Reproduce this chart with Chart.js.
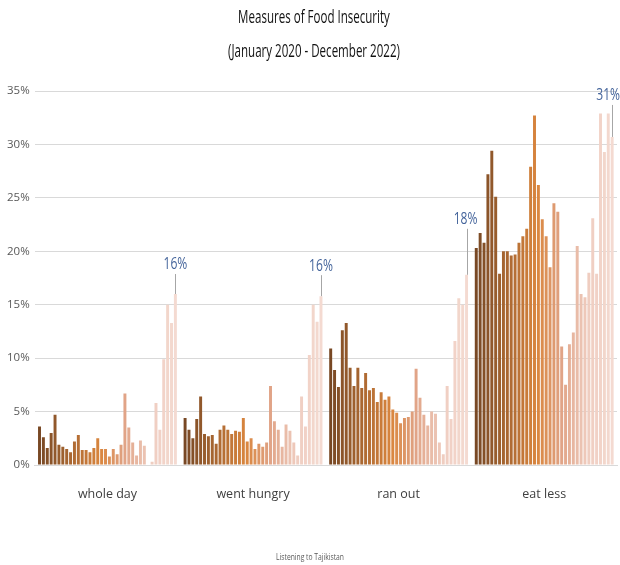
<!DOCTYPE html>
<html>
<head>
<meta charset="utf-8">
<script src="https://cdn.jsdelivr.net/npm/chart.js@4"></script>
<style>
  html, body { margin: 0; padding: 0; background: #ffffff; }
  #wrap { width: 620px; height: 565px; position: relative; }
</style>
</head>
<body>
<div id="wrap"><canvas id="food-chart"></canvas></div>
<script>
// Категории и месяцы
const categories = ['whole day', 'went hungry', 'ran out', 'eat less'];
const months = [
    'Jan 2020', 'Feb 2020', 'Mar 2020', 'Apr 2020', 'May 2020', 'Jun 2020', 'Jul 2020', 'Aug 2020', 'Sep 2020', 'Oct 2020', 'Nov 2020', 'Dec 2020',
    'Jan 2021', 'Feb 2021', 'Mar 2021', 'Apr 2021', 'May 2021', 'Jun 2021', 'Jul 2021', 'Aug 2021', 'Sep 2021', 'Oct 2021', 'Nov 2021', 'Dec 2021',
    'Jan 2022', 'Feb 2022', 'Mar 2022', 'Apr 2022', 'May 2022', 'Jun 2022', 'Jul 2022', 'Aug 2022', 'Sep 2022', 'Oct 2022', 'Nov 2022', 'Dec 2022'
];

// Значения по месяцам, %
const wholeDay = [
    3.6, 2.6, 1.6, 3.0, 4.7, 1.9, 1.7, 1.5, 1.2, 2.2, 2.8, 1.4,
    1.4, 1.2, 1.6, 2.5, 1.5, 1.5, 0.8, 1.5, 1.0, 1.9, 6.7, 3.5,
    2.1, 0.9, 2.3, 1.8, 0, 0.3, 5.8, 3.3, 9.9, 15.0, 13.3, 16.0
];
const wentHungry = [
    4.4, 3.3, 2.5, 4.3, 6.4, 2.9, 2.7, 2.8, 2.0, 3.3, 3.7, 3.3,
    2.9, 3.2, 3.1, 4.4, 2.2, 2.5, 1.5, 2.0, 1.7, 2.1, 7.4, 4.1,
    3.3, 1.7, 3.8, 3.2, 2.1, 0.9, 6.4, 3.6, 10.3, 15.0, 13.4, 15.8
];
const ranOut = [
    10.9, 8.9, 7.3, 12.6, 13.3, 9.1, 7.4, 9.1, 7.2, 8.6, 7.0, 7.2,
    5.9, 6.8, 6.1, 6.4, 5.2, 4.9, 3.9, 4.4, 4.5, 5.0, 9.0, 6.3,
    4.7, 3.7, 5.0, 4.8, 2.1, 1.0, 7.4, 4.3, 11.6, 15.6, 15.0, 17.8
];
const eatLess = [
    20.3, 21.7, 20.8, 27.2, 29.4, 25.1, 17.9, 20.0, 20.0, 19.6, 19.7, 20.8,
    21.4, 22.1, 27.9, 32.7, 26.2, 23.0, 21.4, 18.5, 24.5, 23.7, 11.1, 7.5,
    11.3, 12.4, 20.5, 16.0, 15.7, 18.0, 23.1, 17.9, 32.9, 29.3, 32.9, 30.7
];
const yTicks = [0, 5, 10, 15, 20, 25, 30, 35];
const titleLines = ['Measures of Food Insecurity', '(January 2020 - December 2022)'];
const footerText = 'Listening to Tajikistan';

// Градиент цвета от тёмно-коричневого к светло-персиковому
const colorStops = [
    [0.00, [120, 72, 36]],
    [0.45, [218, 134, 62]],
    [0.62, [224, 162, 132]],
    [0.82, [239, 204, 191]],
    [1.00, [244, 218, 209]]
];

function colorAt(t) {
    for (let i = 1; i < colorStops.length; i++) {
        const [t1, c1] = colorStops[i];
        const [t0, c0] = colorStops[i - 1];
        if (t <= t1) {
            const k = (t - t0) / (t1 - t0);
            const c = c0.map((v, j) => Math.round(v + (c1[j] - v) * k));
            return `rgb(${c[0]},${c[1]},${c[2]})`;
        }
    }
    const c = colorStops[colorStops.length - 1][1];
    return `rgb(${c[0]},${c[1]},${c[2]})`;
}

const series = [wholeDay, wentHungry, ranOut, eatLess];
const datasets = months.map((m, i) => ({
    label: m,
    data: series.map(s => s[i]),
    backgroundColor: colorAt(i / (months.length - 1)),
    borderWidth: 0,
    barPercentage: 0.76,
    categoryPercentage: 0.96
}));

const FONT = '"Open Sans", "DejaVu Sans", sans-serif';

// Узкий текст: шрифт сжимается по горизонтали
function narrowText(ctx, text, x, y, size, color, sx) {
    ctx.save();
    ctx.translate(x, y);
    ctx.scale(sx, 1);
    ctx.font = size + 'px ' + FONT;
    ctx.fillStyle = color;
    ctx.textAlign = 'center';
    ctx.textBaseline = 'middle';
    ctx.fillText(text, 0, 0);
    ctx.restore();
}

// Заголовок, подпись внизу и подписи последнего месяца с выносками
const annotations = {
    id: 'annotations',
    afterDraw(chart, args, opts) {
        const ctx = chart.ctx;
        const cx = chart.width / 2;
        narrowText(ctx, titleLines[0], cx + 4, 18, 17.5, '#111111', 0.66);
        narrowText(ctx, titleLines[1], cx + 4, 52, 17.5, '#111111', 0.66);
        narrowText(ctx, footerText, cx, 557, 9, '#595959', 0.75);

        const meta = chart.getDatasetMeta(months.length - 1);
        meta.data.forEach((bar, i) => {
            const value = series[i][months.length - 1];
            const ty = bar.y - opts.lift[i];
            ctx.save();
            ctx.strokeStyle = '#a6a6a6';
            ctx.lineWidth = 1;
            ctx.beginPath();
            ctx.moveTo(Math.round(bar.x) + 0.5, bar.y);
            ctx.lineTo(Math.round(bar.x) + 0.5, ty + 9);
            ctx.stroke();
            ctx.restore();
            narrowText(ctx, Math.round(value) + '%', bar.x + opts.shift[i], ty, 15.5, '#44649b', 0.78);
        });
    }
};

const ctx = document.getElementById('food-chart').getContext('2d');
const chart = new Chart(ctx, {
    type: 'bar',
    data: { labels: categories, datasets: datasets },
    plugins: [annotations],
    options: {
        responsive: true,
        maintainAspectRatio: false,
        animation: false,
        layout: { padding: { left: 2, right: 3, top: 91, bottom: 49 } },
        plugins: {
            legend: { display: false },
            tooltip: { enabled: false },
            title: { display: false },
            annotations: {
                lift: [29, 30, 55, 41],
                shift: [0, 0, -1, -4]
            }
        },
        scales: {
            x: {
                grid: { display: false },
                border: { display: true, color: '#d9d9d9' },
                ticks: { color: '#404040', font: { family: FONT, size: 12.5 }, padding: 14 }
            },
            y: {
                min: 0,
                max: 35,
                afterBuildTicks(axis) { axis.ticks = yTicks.map(v => ({ value: v })); },
                grid: { color: '#d9d9d9', drawTicks: false },
                border: { display: false },
                ticks: {
                    color: '#595959',
                    font: { family: FONT, size: 11.5 },
                    padding: 5,
                    callback: v => v + '%'
                }
            }
        }
    }
});
</script>
</body>
</html>
